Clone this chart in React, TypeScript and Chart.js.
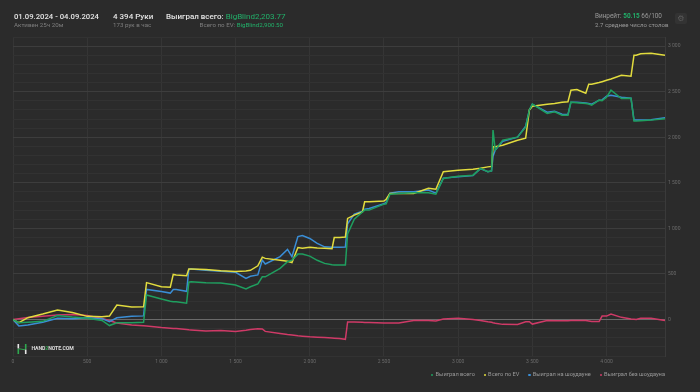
import React, { useEffect, useRef } from "react";
import { Chart, registerables } from "chart.js";

Chart.register(...registerables);

// Hands (x axis)
const hands = [0, 40, 100, 200, 300, 400, 500, 600, 650, 700, 800, 880, 900, 1000, 1060, 1080, 1100, 1170, 1185, 1200, 1300, 1400, 1500, 1570, 1600, 1650, 1680, 1700, 1800, 1850, 1880, 1920, 1950, 2000, 2050, 2100, 2150, 2165, 2200, 2240, 2255, 2300, 2355, 2370, 2400, 2500, 2515, 2540, 2600, 2700, 2800, 2850, 2900, 3000, 3100, 3150, 3200, 3225, 3235, 3250, 3300, 3400, 3455, 3480, 3500, 3600, 3650, 3700, 3740, 3760, 3800, 3860, 3880, 3900, 3950, 3970, 4000, 4030, 4100, 4165, 4185, 4200, 4230, 4300, 4394];

// Выиграл всего
const wonTotal = [0, -35, -30, -20, 45, 28, 15, -10, -66, -35, -35, -30, 269, 226, 200, 195, 195, 180, 410, 415, 405, 400, 378, 335, 360, 390, 469, 469, 561, 634, 652, 718, 718, 696, 650, 616, 600, 598, 598, 598, 940, 1100, 1180, 1201, 1201, 1266, 1270, 1376, 1384, 1390, 1390, 1376, 1548, 1573, 1584, 1658, 1621, 1630, 2078, 1859, 1968, 2001, 2111, 2300, 2363, 2261, 2279, 2242, 2242, 2385, 2379, 2370, 2365, 2352, 2407, 2400, 2440, 2516, 2425, 2429, 2177, 2177, 2180, 2188, 2203.77];

// Всего по EV
const evTotal = [0, -35, 20, 60, 105, 78, 35, 30, 38, 159, 137, 140, 405, 360, 355, 495, 490, 480, 555, 555, 550, 535, 528, 532, 540, 590, 685, 671, 650, 640, 625, 790, 781, 792, 785, 781, 777, 900, 901, 905, 1110, 1146, 1180, 1292, 1292, 1300, 1320, 1384, 1384, 1384, 1440, 1430, 1621, 1639, 1650, 1660, 1675, 1680, 1895, 1895, 1913, 1968, 1990, 2300, 2341, 2363, 2370, 2385, 2390, 2516, 2524, 2484, 2582, 2582, 2600, 2610, 2626, 2640, 2681, 2670, 2900, 2900, 2915, 2922, 2900.5];

// Выиграл на шоудауне
const showdownWon = [0, -70, -60, -30, 15, 10, 20, 10, -24, 20, 35, 40, 330, 308, 290, 330, 330, 310, 550, 555, 540, 530, 518, 452, 475, 490, 652, 610, 690, 770, 690, 910, 921, 890, 835, 798, 792, 792, 792, 795, 1050, 1157, 1190, 1210, 1219, 1270, 1285, 1387, 1401, 1401, 1420, 1387, 1552, 1568, 1579, 1656, 1621, 1630, 1793, 1859, 1957, 2001, 2122, 2300, 2363, 2275, 2286, 2253, 2250, 2385, 2385, 2375, 2370, 2363, 2407, 2410, 2451, 2462, 2440, 2429, 2188, 2188, 2190, 2193, 2215];

// Выиграл без шоудауна
const nonShowdownWon = [0, 10, 22, 35, 49, 55, 44, 11, -10, -38, -60, -68, -71, -88, -95, -97, -99, -110, -113, -115, -126, -121, -132, -118, -110, -100, -104, -130, -154, -165, -170, -178, -182, -189, -193, -197, -202, -204, -208, -217, -27, -27, -30, -32, -33, -38, -38, -38, -38, -11, -11, -15, 5, 13, 0, -10, -24, -30, -35, -40, -53, -55, -25, -24, -50, -11, -12, -13, -12, -11, -11, -10, -15, -22, -22, 38, 38, 60, 24, 5, 2, 0, 13, 13, -11];

const seriesNames = ["Выиграл всего", "Всего по EV", "Выиграл на шоудауне", "Выиграл без шоудауна"];
const seriesColors = ["#1f9f5f", "#e2dc3e", "#3a8ed6", "#cf3a67"];

const xMin = 0;
const xMax = 4394;
const xTickValues = [0, 500, 1000, 1500, 2000, 2500, 3000, 3500, 4000];
const yMin = -400;
const yMax = 3100;
const yStep = 100;
const yLabelStep = 500;

const FONT = "Roboto, 'Noto Sans', sans-serif";

function fmt(v: number): string {
  const s = String(Math.round(Math.abs(v)));
  const out = s.replace(/\B(?=(\d{3})+(?!\d))/g, " ");
  return v < 0 ? "-" + out : out;
}

export default function App() {
  const canvasRef = useRef<HTMLCanvasElement | null>(null);

  useEffect(() => {
    document.body.style.margin = "0";
    document.body.style.background = "#2b2b2b";
    const canvas = canvasRef.current;
    if (!canvas) return;
    const seriesData = [wonTotal, evTotal, showdownWon, nonShowdownWon];
    const yTicks: number[] = [];
    for (let v = yMin; v <= yMax; v += yStep) yTicks.push(v);
    const chart = new Chart(canvas, {
      type: "line",
      data: {
        datasets: seriesData.map((arr, i) => ({
          label: seriesNames[i],
          data: hands.map((h, j) => ({ x: h, y: arr[j] })),
          borderColor: seriesColors[i],
          backgroundColor: seriesColors[i],
          borderWidth: 1.5,
          pointRadius: 0,
          tension: 0,
          fill: false,
        })),
      },
      options: {
        animation: false,
        responsive: false,
        maintainAspectRatio: false,
        layout: { padding: { left: 13, top: 37, right: 0, bottom: 0 } },
        plugins: {
          legend: { display: false },
          tooltip: { enabled: false },
        },
        scales: {
          x: {
            type: "linear",
            min: xMin,
            max: xMax,
            border: { display: false },
            grid: { color: "#353535", drawTicks: false, lineWidth: 1 },
            afterBuildTicks: (s: any) => {
              s.ticks = xTickValues.map((v) => ({ value: v }));
            },
            ticks: {
              autoSkip: false,
              maxRotation: 0,
              padding: 3,
              color: "#6b6b6b",
              font: { family: FONT, size: 5 },
              callback: (v: any) => fmt(Number(v)),
            },
            afterFit: (s: any) => {
              s.height = 36;
            },
          },
          y: {
            type: "linear",
            position: "right",
            min: yMin,
            max: yMax,
            border: { display: true, color: "#3a3a3a" },
            grid: {
              drawTicks: false,
              lineWidth: 1,
              color: (ctx: any) => {
                const v = ctx.tick ? ctx.tick.value : 1;
                if (v === 0) return "#6a6a6a";
                if (v % yLabelStep === 0) return "#3d3d3d";
                return "#323232";
              },
            },
            afterBuildTicks: (s: any) => {
              s.ticks = yTicks.map((v) => ({ value: v }));
            },
            ticks: {
              autoSkip: false,
              padding: 3,
              color: "#6b6b6b",
              font: { family: FONT, size: 5 },
              callback: (v: any) => (Number(v) % yLabelStep === 0 ? fmt(Number(v)) : ""),
            },
            afterFit: (s: any) => {
              s.width = 35;
            },
          },
        },
      },
    });
    return () => chart.destroy();
  }, []);

  const abs = (left: number, top: number, extra: React.CSSProperties = {}): React.CSSProperties => ({
    position: "absolute",
    left,
    top,
    whiteSpace: "nowrap",
    fontFamily: FONT,
    lineHeight: 1,
    ...extra,
  });
  const green = "#22b06a";

  return (
    <div style={{ position: "relative", width: 700, height: 392, background: "#2b2b2b", overflow: "hidden" }}>
      <canvas ref={canvasRef} width={700} height={392} style={{ position: "absolute", left: 0, top: 0, width: 700, height: 392, display: "block" }} />

      <div style={abs(14, 13, { fontSize: 7.7, fontWeight: 500, color: "#e4e4e4" })}>01.09.2024 - 04.09.2024</div>
      <div style={abs(14, 21.8, { fontSize: 6.2, color: "#7f7f7f" })}>Активен 25ч 20м</div>

      <div style={abs(113, 13, { fontSize: 8, fontWeight: 500, color: "#e4e4e4" })}>4 394 Руки</div>
      <div style={abs(113, 21.8, { fontSize: 6.2, color: "#7f7f7f" })}>173 рук в час</div>

      <div style={abs(166, 13, { fontSize: 8, fontWeight: 500, color: "#e4e4e4" })}>
        Выиграл всего: <span style={{ color: green, fontWeight: 400 }}>BigBlind2,203.77</span>
      </div>
      <div style={{ ...abs(0, 21.8, { fontSize: 6.2, color: "#7f7f7f" }), left: "auto", right: 700 - 283 }}>
        Всего по EV: <span style={{ color: green }}>BigBlind2,900.50</span>
      </div>

      <div style={abs(595, 13.2, { fontSize: 6.4, color: "#9a9a9a" })}>
        Винрейт: <span style={{ color: green, fontWeight: 700 }}>50.15</span> 66/100
      </div>
      <div style={abs(595, 22, { fontSize: 6.1, color: "#9a9a9a" })}>2.7 среднее число столов</div>

      <div
        style={{
          position: "absolute",
          left: 675,
          top: 12.5,
          width: 11.5,
          height: 11.5,
          background: "#333333",
          borderRadius: 2,
          color: "#5c5c5c",
          fontSize: 8,
          lineHeight: "11.5px",
          textAlign: "center",
          fontFamily: "DejaVu Sans",
        }}
      >
        ⚙
      </div>

      {/* Logo */}
      <svg style={{ position: "absolute", left: 17, top: 344 }} width={10} height={10} viewBox="0 0 10 10">
        <rect x={0.5} y={0} width={1.6} height={4.5} fill="#e6e6e6" />
        <rect x={0.5} y={5} width={1.6} height={5} fill="#2fa84f" />
        <rect x={7.9} y={0} width={1.6} height={5} fill="#2fa84f" />
        <rect x={7.9} y={5.5} width={1.6} height={4.5} fill="#e6e6e6" />
        <polygon points="2,4.2 8,5.2 8,6.2 2,5.2" fill="#2fa84f" />
      </svg>
      <div style={abs(31.5, 346, { fontSize: 5.2, fontWeight: 700, color: "#dcdcdc", letterSpacing: -0.1 })}>
        HAND<span style={{ color: "#2fa84f" }}>2</span>NOTE.COM
      </div>

      {/* Legend */}
      <div
        style={{
          position: "absolute",
          right: 35,
          top: 372.2,
          display: "flex",
          gap: 9,
          fontFamily: FONT,
          fontSize: 5.7,
          color: "#9a9a9a",
          lineHeight: 1,
          whiteSpace: "nowrap",
        }}
      >
        {seriesNames.map((n, i) => (
          <div key={n} style={{ display: "flex", alignItems: "center" }}>
            <span style={{ display: "inline-block", width: 2.2, height: 2.2, borderRadius: "50%", background: seriesColors[i], marginRight: 2 }} />
            <span>{n}</span>
          </div>
        ))}
      </div>
    </div>
  );
}
